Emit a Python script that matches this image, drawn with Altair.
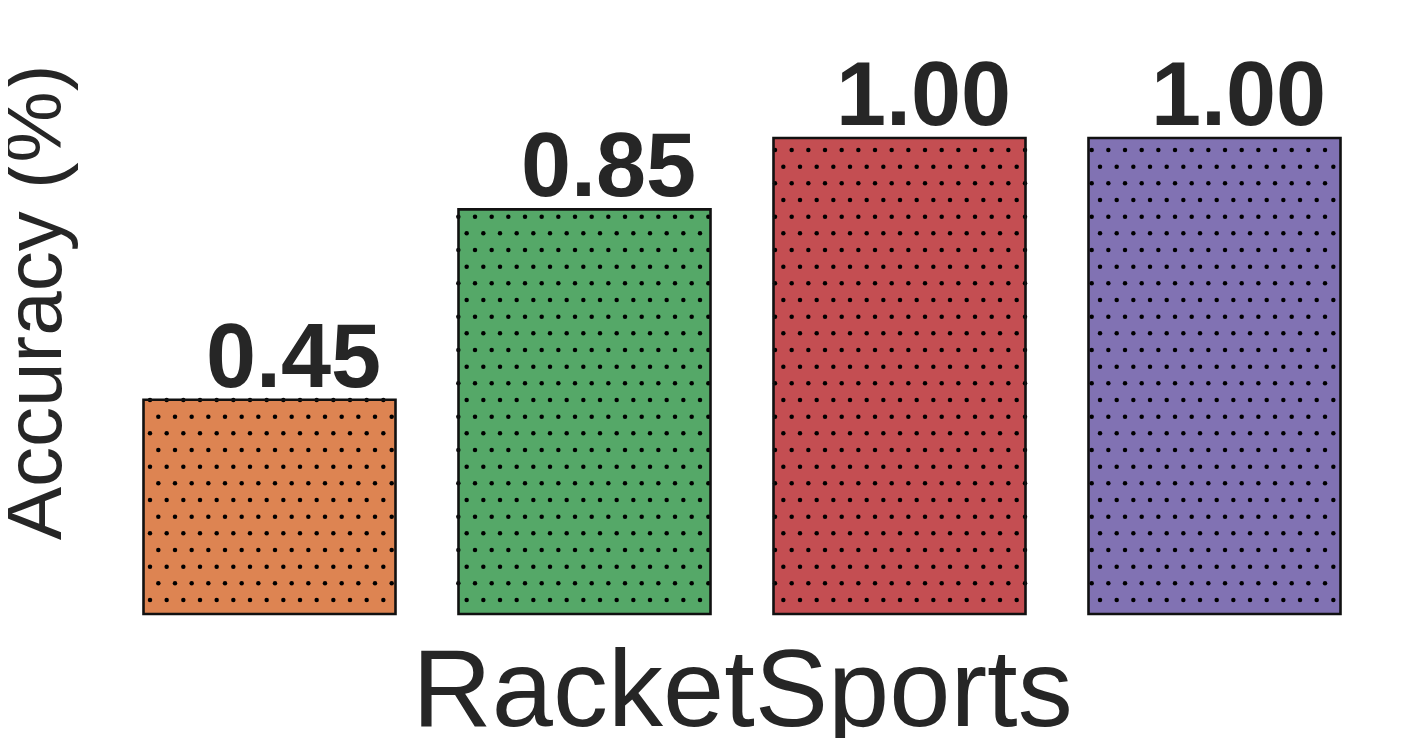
import altair as alt
import pandas as pd
import numpy as np

# ---- data ----
methods = ["Method 1", "Method 2", "Method 3", "Method 4"]
accuracy = [0.45, 0.85, 1.00, 1.00]
labels = ["0.45", "0.85", "1.00", "1.00"]
colors = ["#DD8452", "#55A868", "#C44E52", "#8172B3"]
x_title = "RacketSports"
y_title = "Accuracy (%)"

# ---- layout ----
W, H = 1260, 606
XMAX = 4.0
YMAX = 1.2731
BAR = 0.8
FONT = "Liberation Sans, Arial, sans-serif"
INK = "#262626"

centers = [i + 0.5 for i in range(len(methods))]
bars = pd.DataFrame({
    "method": methods,
    "acc": accuracy,
    "label": labels,
    "xc": centers,
    "x0": [c - BAR / 2 for c in centers],
    "x1": [c + BAR / 2 for c in centers],
})

# ---- dotted hatch texture (global pattern clipped to each bar) ----
pxx = W / XMAX
pxy = H / YMAX
step = 16.667
ox, oy = 38.0, 14.0
dots = []
for _, b in bars.iterrows():
    left, right, top = b.x0 * pxx, b.x1 * pxx, b.acc * pxy
    j = 0
    while oy + j * step <= top + 0.5:
        yy = oy + j * step
        start = ox + (j % 2) * step / 2
        k = 0
        while start + k * step <= right + 0.5:
            xx = start + k * step
            if xx >= left - 0.5:
                dots.append({"x": xx / pxx, "y": yy / pxy})
            k += 1
        j += 1
dots = pd.DataFrame(dots)

xscale = alt.Scale(domain=[0, XMAX], nice=False, zero=False)
yscale = alt.Scale(domain=[0, YMAX], nice=False)

xaxis = alt.Axis(labels=False, ticks=False, domain=False, grid=False,
                 title=x_title, titleFont=FONT, titleFontSize=110,
                 titleFontWeight="normal", titleColor=INK,
                 titleX=W / 2, titleY=111, titleBaseline="alphabetic",
                 titleAlign="center")
yaxis = alt.Axis(labels=False, ticks=False, domain=False, grid=False,
                 title=y_title, titleFont=FONT, titleFontSize=80,
                 titleFontWeight="normal", titleColor=INK,
                 titleX=-52, titleY=294, titleBaseline="alphabetic",
                 titleAlign="center", titleAngle=270)

base = alt.Chart(bars)

fill = base.mark_rect().encode(
    x=alt.X("x0:Q", scale=xscale, axis=xaxis),
    x2="x1:Q",
    y=alt.Y("acc:Q", scale=yscale, axis=yaxis),
    y2=alt.datum(0),
    color=alt.Color("method:N", scale=alt.Scale(domain=methods, range=colors), legend=None),
)

dot_layer = alt.Chart(dots).mark_circle(color="black", opacity=1, size=20).encode(
    x=alt.X("x:Q", scale=xscale),
    y=alt.Y("y:Q", scale=yscale),
)

outline = base.mark_rect(fillOpacity=0, stroke="#111111", strokeWidth=2.6).encode(
    x=alt.X("x0:Q", scale=xscale),
    x2="x1:Q",
    y=alt.Y("acc:Q", scale=yscale),
    y2=alt.datum(0),
)

text = base.mark_text(font=FONT, fontSize=90, fontWeight="bold", color=INK,
                      baseline="alphabetic", align="center", dx=24, dy=-13).encode(
    x=alt.X("xc:Q", scale=xscale),
    y=alt.Y("acc:Q", scale=yscale),
    text="label:N",
)

chart = alt.layer(fill, dot_layer, outline, text).properties(
    width=W, height=H,
    autosize=alt.AutoSizeParams(type="none"),
    padding={"left": 104, "top": 0, "right": 21, "bottom": 124},
    background="white",
).configure_view(stroke=None)

chart.save("out.html", embed_options={"renderer": "svg", "actions": False})
